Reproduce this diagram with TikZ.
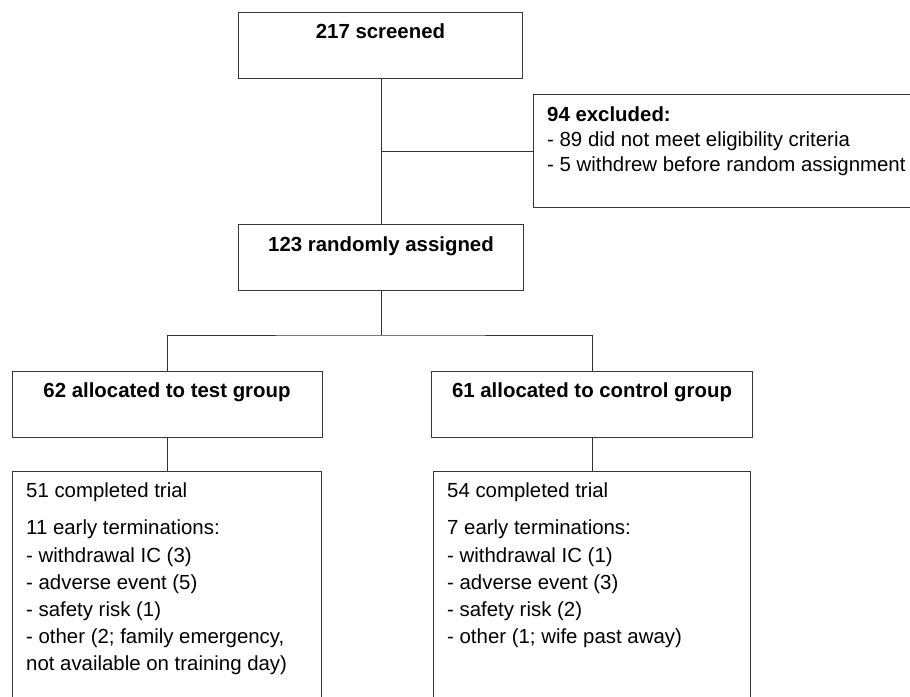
\documentclass[tikz,border=0pt]{standalone}
\usepackage{fontspec}
\setmainfont{Liberation Sans}
\begin{document}
\begin{tikzpicture}[x=1pt,y=-1pt,
  box/.style={draw=black!78, line width=1.2pt, rectangle, inner sep=0pt, anchor=north west},
  conn/.style={draw=black!80, line width=1pt},
  title/.style={font=\fontsize{20.4}{24}\selectfont\bfseries, inner sep=0pt, anchor=base},
  txt/.style={font=\fontsize{20.4}{24}\selectfont, inner sep=0pt, anchor=base west},
  txtb/.style={font=\fontsize{20.4}{24}\selectfont\bfseries, inner sep=0pt, anchor=base west}]
\clip (0,0) rectangle (910,696);
\fill[white] (0,0) rectangle (910,696);
% boxes
\node[box, minimum width=284pt, minimum height=66pt] (scr) at (238,12) {};
\node[box, minimum width=390pt, minimum height=113pt] (exc) at (533,94) {};
\node[box, minimum width=285pt, minimum height=66pt] (rnd) at (238,224) {};
\node[box, minimum width=310pt, minimum height=66pt] (test) at (12,371) {};
\node[box, minimum width=321pt, minimum height=66pt] (ctl) at (431,371) {};
\node[box, minimum width=309pt, minimum height=240pt] (bl) at (12,471) {};
\node[box, minimum width=317pt, minimum height=240pt] (br) at (433,471) {};
% titles
\node[title] (scrt) at (380.5,38) {217 screened};
\node[title] (rndt) at (381,251) {123 randomly assigned};
\node[title] (testt) at (167,397) {62 allocated to test group};
\node[title] (ctlt) at (592,397) {61 allocated to control group};
% excluded text
\node[txtb] (e1) at (547,121) {94 excluded:};
\node[txt] (e2) at (547,146) {- 89 did not meet eligibility criteria};
\node[txt] (e3) at (547,171) {- 5 withdrew before random assignment};
% bottom left text
\node[txt] (l1) at (26,497) {51 completed trial};
\node[txt] (l2) at (26,534) {11 early terminations:};
\node[txt] (l3) at (26,562) {- withdrawal IC (3)};
\node[txt] (l4) at (26,589) {- adverse event (5)};
\node[txt] (l5) at (26,616) {- safety risk (1)};
\node[txt] (l6) at (26,643) {- other (2; family emergency,};
\node[txt] (l7) at (26,670) {not available on training day)};
% bottom right text
\node[txt] (r1) at (447,497) {54 completed trial};
\node[txt] (r2) at (447,534) {7 early terminations:};
\node[txt] (r3) at (447,562) {- withdrawal IC (1)};
\node[txt] (r4) at (447,589) {- adverse event (3)};
\node[txt] (r5) at (447,616) {- safety risk (2)};
\node[txt] (r6) at (447,643) {- other (1; wife past away)};
% connectors
\coordinate (split) at (rnd.south |- 0,335);
\draw[conn] (scr.south -| rnd.north) -- (rnd.north);
\draw[conn] (exc.west -| rnd.north) -- (exc.west);
\draw[conn] (rnd.south) -- (split);
\draw[conn] (test.north) |- (split) -| (ctl.north);
\draw[conn] (test.south) -- (test.south |- bl.north);
\draw[conn] (ctl.south) -- (ctl.south |- br.north);
\end{tikzpicture}
\end{document}
